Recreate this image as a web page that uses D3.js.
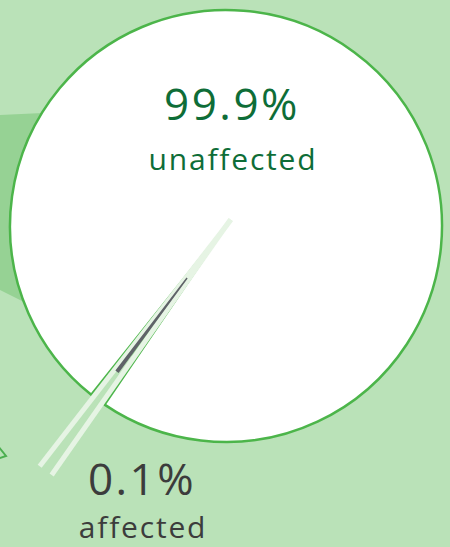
<!DOCTYPE html>
<html>
<head>
<meta charset="utf-8">
<script src="https://cdn.jsdelivr.net/npm/d3@7"></script>
<style>
html, body { margin: 0; padding: 0; background: #bae2b8; }
svg { display: block; }
</style>
</head>
<body>
<div id="chart"></div>
<script>
// share of people, unaffected vs affected
var labels = ["unaffected", "affected"];
var shares = [99.9, 0.1];
var shareLabels = ["99.9%", "0.1%"];

var width = 450, height = 547;
var cx = 226, cy = 226, radius = 216;
var deg = Math.PI / 180;

var svg = d3.select("#chart").append("svg")
	.attr("width", width)
	.attr("height", height);

svg.append("rect")
	.attr("width", width)
	.attr("height", height)
	.attr("fill", "#bae2b8");

// bits of the surrounding graphic peeking out on the left
svg.append("path")
	.attr("d", "M0,115L150,108L150,365L0,290Z")
	.attr("fill", "#96d294");
svg.append("path")
	.attr("d", "M-6,441L6,456L-6,460")
	.attr("fill", "none")
	.attr("stroke", "#4caf50")
	.attr("stroke-width", 2);

//put the small slice pointing down-left
var mid = 216.4 * deg;
var total = d3.sum(shares);
var smallAngle = 2 * Math.PI * shares[1] / total;
var pie = d3.pie().sort(null)
	.startAngle(mid + smallAngle / 2 - 2 * Math.PI)
	.endAngle(mid + smallAngle / 2);
var arcs = pie(shares);
var big = arcs[0], small = arcs[1];
var theta = (small.startAngle + small.endAngle) / 2;

var g = svg.append("g").attr("transform", "translate(" + cx + "," + cy + ")");

// the 0.1% is far too thin to see, so widen it a bit for the eye
var gap = 2.2 * deg;
var bigArc = d3.arc().innerRadius(0).outerRadius(radius);
g.append("path")
	.attr("d", bigArc({ startAngle: small.endAngle + gap - smallAngle / 2, endAngle: small.startAngle - gap + smallAngle / 2 + 2 * Math.PI }))
	.attr("fill", "#fff")
	.attr("stroke", "#4cb54a")
	.attr("stroke-width", 2.5)
	.attr("stroke-linejoin", "round");

function pt(a, r) { return [r * Math.sin(a), -r * Math.cos(a)]; }

[theta + 1.4 * deg, theta - 1.4 * deg].forEach(function(a) {
	var p0 = pt(a, -8), p1 = pt(a, 304);
	g.append("line")
		.attr("x1", p0[0]).attr("y1", p0[1])
		.attr("x2", p1[0]).attr("y2", p1[1])
		.attr("stroke", "#e6f4e4")
		.attr("stroke-width", 5);
});

var smallArc = d3.arc().innerRadius(65).outerRadius(182);
g.append("path")
	.attr("d", smallArc({ startAngle: small.startAngle - 0.05 * deg, endAngle: small.endAngle + 0.85 * deg }))
	.attr("fill", "#5f6368");

// labels
var font = "'Open Sans', sans-serif";
var textPos = [
	{ x: 232, y: 120, y2: 170, fill: "#0e6d37" },
	{ x: 142, y: 495, y2: 538, fill: "#3c3c3c" }
];
labels.forEach(function(l, i) {
	svg.append("text")
		.attr("x", textPos[i].x).attr("y", textPos[i].y)
		.attr("text-anchor", "middle")
		.attr("font-family", font)
		.attr("font-size", 44)
		.attr("letter-spacing", 2.5)
		.attr("fill", textPos[i].fill)
		.text(shareLabels[i]);
	svg.append("text")
		.attr("x", textPos[i].x + 1).attr("y", textPos[i].y2)
		.attr("text-anchor", "middle")
		.attr("font-family", font)
		.attr("font-size", 30)
		.attr("letter-spacing", 1.8)
		.attr("fill", textPos[i].fill)
		.text(l);
});
</script>
</body>
</html>
